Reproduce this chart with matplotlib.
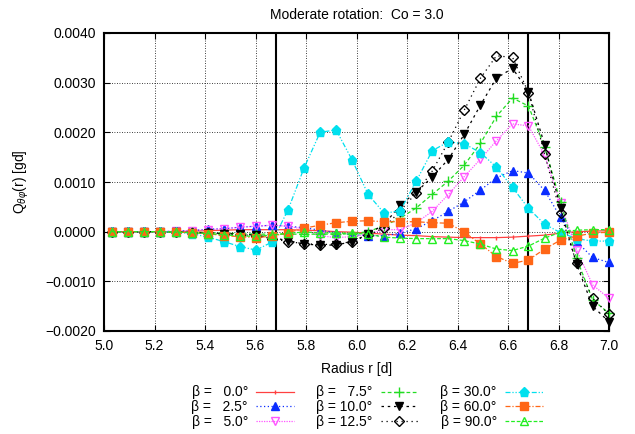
import numpy as np
import matplotlib
matplotlib.use("Agg")
import matplotlib.pyplot as plt

plt.rcParams['font.family'] = ['Liberation Sans', 'DejaVu Sans']
plt.rcParams['mathtext.fontset'] = 'custom'
plt.rcParams['mathtext.rm'] = 'Liberation Sans'
plt.rcParams['mathtext.it'] = 'Liberation Sans:italic'

radius = [5.030, 5.094, 5.157, 5.221, 5.284, 5.348, 5.411, 5.475, 5.538, 5.602,
          5.665, 5.729, 5.792, 5.856, 5.919, 5.983, 6.046, 6.110, 6.173, 6.237,
          6.300, 6.364, 6.427, 6.491, 6.554, 6.618, 6.681, 6.745, 6.808, 6.872,
          6.935, 6.999]

# values in units of 1e-3 gd
q_b00 = [0, 0, 0, 0, 0, 0.01, 0.02, 0.03, 0.04, 0.04, 0.04, 0.04, 0.03, 0.02, 0.0, -0.01,
         -0.03, -0.05, -0.07, -0.08, -0.10, -0.11, -0.12, -0.12, -0.12, -0.11, -0.09, -0.07,
         -0.03, 0.0, 0.01, 0.02]
q_b25 = [0, 0, 0, 0, 0.01, 0.02, 0.05, 0.06, 0.09, 0.11, 0.13, 0.11, 0.08, 0.03, -0.02, -0.06,
         -0.08, -0.08, -0.03, 0.06, 0.22, 0.41, 0.60, 0.84, 1.08, 1.23, 1.18, 0.83, 0.29, -0.20,
         -0.52, -0.62]
q_b50 = [0, 0, 0, 0, 0.01, 0.02, 0.04, 0.06, 0.09, 0.11, 0.13, 0.11, 0.05, -0.08, -0.12, -0.10,
         -0.05, 0.04, 0.04, 0.18, 0.41, 0.75, 1.11, 1.46, 1.83, 2.17, 2.13, 1.54, 0.57, -0.37,
         -1.07, -1.34]
q_b75 = [0, 0, 0, 0, -0.01, -0.01, -0.02, -0.03, -0.04, -0.05, -0.05, -0.05, -0.05, -0.05, -0.05,
         -0.04, 0.0, 0.12, 0.27, 0.48, 0.75, 1.02, 1.34, 1.78, 2.32, 2.69, 2.53, 1.71, 0.60, -0.54,
         -1.37, -1.64]
q_b100 = [0, 0, 0, 0, -0.01, -0.02, -0.03, -0.04, -0.05, -0.07, -0.12, -0.18, -0.25, -0.27, -0.27,
          -0.20, -0.05, 0.15, 0.53, 0.80, 1.10, 1.46, 1.96, 2.55, 3.09, 3.29, 2.82, 1.75, 0.47,
          -0.66, -1.50, -1.81]
q_b125 = [0, 0, 0, 0, -0.01, -0.02, -0.03, -0.04, -0.06, -0.08, -0.14, -0.20, -0.24, -0.26, -0.25,
          -0.20, -0.07, 0.08, 0.42, 0.78, 1.22, 1.81, 2.45, 3.09, 3.54, 3.51, 2.80, 1.56, 0.37,
          -0.64, -1.34, -1.66]
q_b300 = [0, 0, 0, 0, -0.01, -0.04, -0.11, -0.20, -0.30, -0.37, -0.21, 0.44, 1.28, 2.00, 2.05,
          1.44, 0.75, 0.37, 0.42, 1.02, 1.63, 1.81, 1.77, 1.59, 1.30, 0.89, 0.47, 0.15, -0.02,
          -0.14, -0.19, -0.19]
q_b600 = [0, 0, 0, 0, -0.01, -0.02, -0.04, -0.08, -0.10, -0.12, -0.09, -0.02, 0.07, 0.13, 0.18,
          0.21, 0.22, 0.20, 0.20, 0.20, 0.18, 0.17, -0.01, -0.25, -0.50, -0.64, -0.57, -0.35,
          -0.17, -0.09, -0.03, -0.01]
q_b900 = [0, 0, 0, 0, -0.01, -0.02, -0.04, -0.06, -0.09, -0.09, -0.07, -0.03, -0.01, -0.02, -0.03,
          -0.03, -0.05, -0.11, -0.13, -0.14, -0.14, -0.14, -0.18, -0.25, -0.35, -0.38, -0.29,
          -0.13, -0.01, 0.03, 0.04, 0.04]

labels = ["β = \u20070.0°", "β = \u20072.5°", "β = \u20075.0°",
          "β = \u20077.5°", "β = 10.0°", "β = 12.5°",
          "β = 30.0°", "β = 60.0°", "β = 90.0°"]
series = [q_b00, q_b25, q_b50, q_b75, q_b100, q_b125, q_b300, q_b600, q_b900]

styles = [
    dict(color='#ff4040', ls='-', marker='|', ms=3, mfc='#ff4040'),
    dict(color='#0a2cff', ls=(0, (1, 2)), marker='^', ms=5.5, mfc='#0a2cff'),
    dict(color='#ff55ff', ls=(0, (1, 1)), marker='v', ms=6, mfc='none'),
    dict(color='#22dd22', ls=(0, (3, 2)), marker='+', ms=7.5, mfc='#22dd22'),
    dict(color='black', ls=(0, (2, 3)), marker='v', ms=5.5, mfc='black'),
    dict(color='black', ls=(0, (1, 3)), marker='D', ms=4.8, mfc='none'),
    dict(color='#00e0ee', ls=(0, (4, 1.5, 1, 1.5, 1, 1.5)), marker='p', ms=6.5, mfc='#00e0ee'),
    dict(color='#ff6616', ls=(0, (4, 1.5, 1, 1.5)), marker='s', ms=6.3, mfc='#ff6616'),
    dict(color='#22ee22', ls=(0, (3, 1.5)), marker='^', ms=6, mfc='none'),
]

fig = plt.figure(figsize=(6.35, 4.34), dpi=100)
ax = fig.add_axes([104/635, 1-331/434, (609-104)/635, (331-33)/434])

r = np.array(radius)
for vals, lab, st in zip(series, labels, styles):
    ax.plot(r, np.array(vals)*1e-3, label=lab, lw=0.9, color=st['color'], ls=st['ls'],
            marker=st['marker'], ms=st['ms'], mfc=st['mfc'], mec=st['color'], mew=1.0,
            clip_on=False, zorder=3)

for xv in [5.68, 6.68]:
    ax.axvline(xv, color='black', lw=1.5, zorder=2)

ax.set_xlim(5.0, 7.0)
ax.set_ylim(-0.002, 0.004)
ax.set_xticks(np.arange(5.0, 7.001, 0.2))
ax.set_yticks(np.arange(-0.002, 0.00401, 0.001))
ax.set_xticklabels([f"{v:.1f}" for v in np.arange(5.0, 7.001, 0.2)])
ax.set_yticklabels([f"{v:.4f}".replace('-', '\u2212') for v in np.arange(-0.002, 0.00401, 0.001)])
ax.grid(True, color='black', ls=(0, (1, 2)), lw=0.6)
ax.tick_params(direction='in', top=True, right=True, length=4, labelsize=10, pad=6)
for sp in ax.spines.values():
    sp.set_linewidth(1.5)

ax.set_title("Moderate rotation:  Co = 3.0", fontsize=10, pad=10)
ax.set_xlabel("Radius r [d]", fontsize=10, labelpad=6)
ax.set_ylabel(r"Q$_{\theta\varphi}$(r) [gd]", fontsize=10, labelpad=10)

fig.legend(loc='center', bbox_to_anchor=(0.578, 0.062), ncol=3, frameon=False,
           markerfirst=False, fontsize=10, handlelength=2.7, labelspacing=0.05,
           columnspacing=1.6, handletextpad=0.6, borderpad=0)

fig.savefig("out.png", dpi=100)
